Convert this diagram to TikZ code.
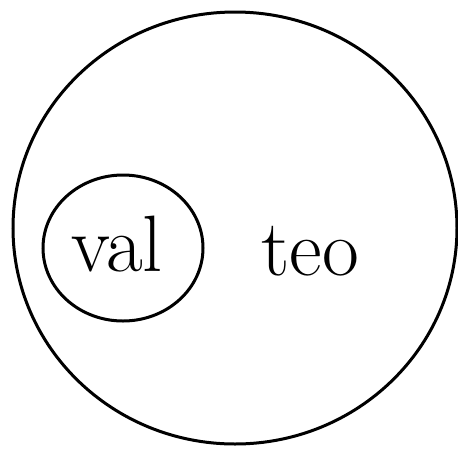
\documentclass[tikz,border=0pt]{standalone}
\usepackage{tikz}
\usetikzlibrary{shapes.geometric}
\tikzset{
  setline/.style={draw=black, line width=3pt, ellipse, inner sep=0pt},
  setlabel/.style={font=\fontsize{80}{86}\selectfont, inner sep=0pt}
}
\begin{document}
\begin{tikzpicture}[x=1pt, y=-1pt]
  \useasboundingbox (0,0) rectangle (458,448);
  \fill[white] (0,0) rectangle (458,448);

  % outer set
  \node[setline, minimum width=444pt, minimum height=432pt] (teoset) at (235,228) {};
  % inner set
  \node[setline, minimum width=160pt, minimum height=146pt] (valset) at (123,248) {};

  \node[setlabel] (val) at (117,244) {val};
  \node[setlabel] (teo) at (310,251) {teo};
\end{tikzpicture}
\end{document}
